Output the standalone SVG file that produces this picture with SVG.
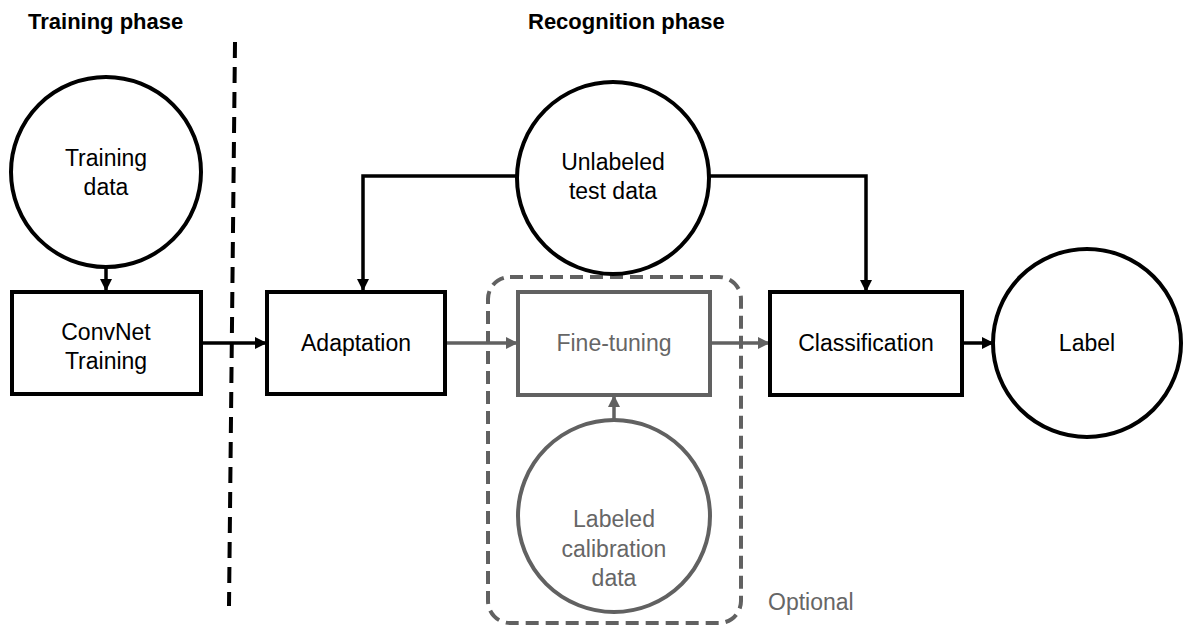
<svg xmlns="http://www.w3.org/2000/svg" width="1183" height="626" viewBox="0 0 1183 626">
  <style>
    .txt { font-family: "Liberation Sans", Arial, sans-serif; font-size: 23px; fill: #000; text-anchor: middle; }
    .head { font-family: "Liberation Sans", Arial, sans-serif; font-size: 22px; font-weight: bold; fill: #000; }
    .gtxt { fill: #666666; }
    .node { fill: #fff; stroke: #000; stroke-width: 4; }
    .gnode { fill: #fff; stroke: #616161; stroke-width: 4; }
    .edge { fill: none; stroke: #000; stroke-width: 3.5; }
    .gedge { fill: none; stroke: #616161; stroke-width: 3.5; }
  </style>
  <defs>
    <marker id="ah" markerUnits="userSpaceOnUse" markerWidth="12" markerHeight="12" viewBox="0 0 12 12" refX="11" refY="6" orient="auto">
      <path d="M0,0 L12,6 L0,12 Z" fill="#000"/>
    </marker>
    <marker id="ahg" markerUnits="userSpaceOnUse" markerWidth="12" markerHeight="12" viewBox="0 0 12 12" refX="11" refY="6" orient="auto">
      <path d="M0,0 L12,6 L0,12 Z" fill="#616161"/>
    </marker>
  </defs>

  <rect width="1183" height="626" fill="#fff"/>

  <!-- phase headings and divider -->
  <text class="head" x="28" y="29">Training phase</text>
  <text class="head" x="528" y="29">Recognition phase</text>
  <line x1="235" y1="42" x2="229" y2="606" stroke="#000" stroke-width="4" stroke-dasharray="16 9"/>

  <!-- optional fine-tuning region -->
  <g id="optional-group">
    <rect x="488" y="277" width="253" height="346" rx="22" fill="none" stroke="#616161" stroke-width="4" stroke-dasharray="13 7"/>
    <text class="txt gtxt" x="768" y="610" style="text-anchor:start">Optional</text>
  </g>

  <!-- connectors -->
  <g id="connectors">
    <line class="edge" x1="106" y1="267" x2="106" y2="290" marker-end="url(#ah)"/>
    <line class="edge" x1="201" y1="343" x2="266" y2="343" marker-end="url(#ah)"/>
    <line class="gedge" x1="445" y1="343" x2="517" y2="343" marker-end="url(#ahg)"/>
    <line class="gedge" x1="710" y1="343" x2="769" y2="343" marker-end="url(#ahg)"/>
    <line class="edge" x1="962" y1="343" x2="993" y2="343" stroke-width="5" marker-end="url(#ah)"/>
    <polyline class="edge" points="518,176 363,176 363,290" marker-end="url(#ah)"/>
    <polyline class="edge" points="709,176 866,176 866,291" marker-end="url(#ah)"/>
    <line class="gedge" x1="614" y1="420" x2="614" y2="396" marker-end="url(#ahg)"/>
  </g>

  <g id="training-data">
    <circle class="node" cx="106" cy="172" r="95"/>
    <text class="txt" x="106" y="166">Training</text>
    <text class="txt" x="106" y="195">data</text>
  </g>

  <g id="convnet-training">
    <rect class="node" x="12" y="292" width="189" height="102"/>
    <text class="txt" x="106" y="340">ConvNet</text>
    <text class="txt" x="106" y="369">Training</text>
  </g>

  <g id="unlabeled-test-data">
    <circle class="node" cx="613" cy="178" r="96"/>
    <text class="txt" x="613" y="170">Unlabeled</text>
    <text class="txt" x="613" y="199">test data</text>
  </g>

  <g id="adaptation">
    <rect class="node" x="267" y="292" width="178" height="102"/>
    <text class="txt" x="356" y="351">Adaptation</text>
  </g>

  <g id="fine-tuning">
    <rect class="gnode" x="518" y="292" width="192" height="103"/>
    <text class="txt gtxt" x="614" y="351">Fine-tuning</text>
  </g>

  <g id="labeled-calibration-data">
    <circle class="gnode" cx="614" cy="516" r="96"/>
    <text class="txt gtxt" x="614" y="527">Labeled</text>
    <text class="txt gtxt" x="614" y="557">calibration</text>
    <text class="txt gtxt" x="614" y="586">data</text>
  </g>

  <g id="classification">
    <rect class="node" x="770" y="292" width="192" height="103"/>
    <text class="txt" x="866" y="351">Classification</text>
  </g>

  <g id="label">
    <circle class="node" cx="1087" cy="343" r="94"/>
    <text class="txt" x="1087" y="351">Label</text>
  </g>
</svg>
